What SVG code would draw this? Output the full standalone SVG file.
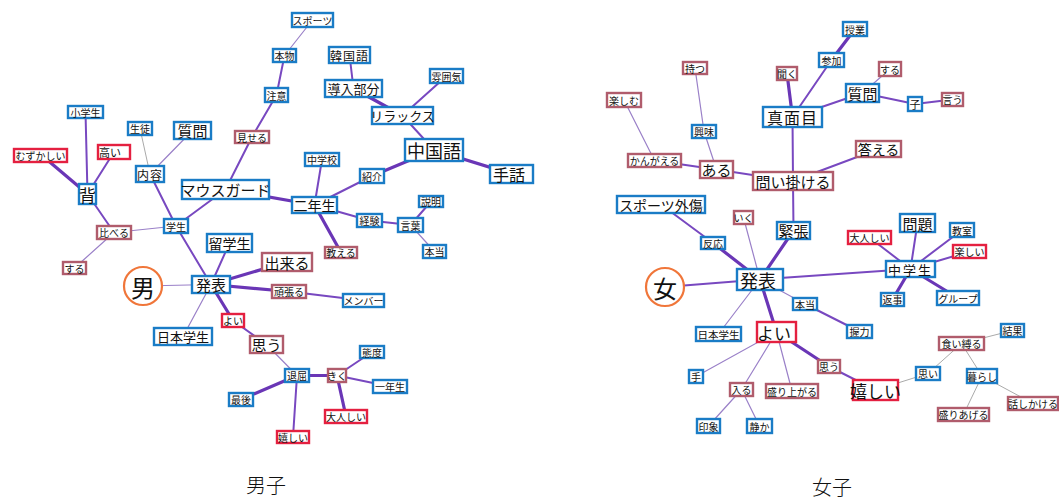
<svg xmlns="http://www.w3.org/2000/svg" width="1059" height="499" viewBox="0 0 1059 499">
<style>
  .bg{fill:#ffffff}
  rect{fill:#ffffff;stroke-width:2.4}
  .b rect{stroke:#1a7cc6}
  .m rect{stroke:#b05c6c}
  .r rect{stroke:#e42040}
  text{font-family:"Noto Sans CJK JP","Noto Sans",sans-serif;fill:#111;text-anchor:middle;dominant-baseline:central}
  .s text{font-size:10px}
  .k text{font-size:13px}
  .l text{font-size:15px}
  .x text{font-size:17px}
  .hub circle{fill:#ffffff;stroke:#f0763a;stroke-width:2.2}
  .hub text{font-size:24px}
  .cap{font-size:20px;font-weight:300}
  #edges line{stroke-linecap:round}
  .e3{stroke:#6a36b6;stroke-width:3.2}
  .e2{stroke:#7848c0;stroke-width:2}
  .e1{stroke:#9a80c8;stroke-width:1.2}
  .eg{stroke:#aaaaaa;stroke-width:1}
</style>
<rect class="bg" x="0" y="0" width="1059" height="499" style="stroke:none"/>

<g id="edges">
  <!-- left network -->
  <line class="e1" x1="143" y1="286" x2="211" y2="284.5"/>
  <line class="e2" x1="211" y1="284.5" x2="176" y2="226"/>
  <line class="e2" x1="211" y1="284.5" x2="229.5" y2="243"/>
  <line class="e3" x1="211" y1="284.5" x2="287" y2="262"/>
  <line class="e3" x1="211" y1="284.5" x2="289" y2="291.5"/>
  <line class="e1" x1="211" y1="284.5" x2="183" y2="336.5"/>
  <line class="e3" x1="211" y1="284.5" x2="233" y2="320.5"/>
  <line class="e2" x1="233" y1="320.5" x2="266.5" y2="344.5"/>
  <line class="e1" x1="266.5" y1="344.5" x2="297" y2="375.5"/>
  <line class="e3" x1="297" y1="375.5" x2="241" y2="399.5"/>
  <line class="e3" x1="297" y1="375.5" x2="337" y2="375.5"/>
  <line class="e2" x1="297" y1="375.5" x2="293" y2="437"/>
  <line class="e2" x1="337" y1="375.5" x2="372" y2="352"/>
  <line class="e2" x1="337" y1="375.5" x2="390" y2="386.5"/>
  <line class="e3" x1="337" y1="375.5" x2="346" y2="416.5"/>
  <line class="e2" x1="289" y1="291.5" x2="363.5" y2="300.5"/>
  <line class="e2" x1="176" y1="226" x2="150" y2="174"/>
  <line class="e2" x1="176" y1="226" x2="225.5" y2="189.5"/>
  <line class="e1" x1="176" y1="226" x2="114" y2="232.5"/>
  <line class="eg" x1="150" y1="174" x2="140" y2="128.5"/>
  <line class="e1" x1="150" y1="174" x2="192.5" y2="130.5"/>
  <line class="e2" x1="114" y1="232.5" x2="87.5" y2="194"/>
  <line class="e1" x1="114" y1="232.5" x2="74.5" y2="268"/>
  <line class="e2" x1="87.5" y1="194" x2="85.5" y2="112"/>
  <line class="e3" x1="87.5" y1="194" x2="45" y2="158"/>
  <line class="e2" x1="87.5" y1="194" x2="114" y2="152"/>
  <line class="e2" x1="225.5" y1="189.5" x2="252" y2="137"/>
  <line class="e3" x1="225.5" y1="189.5" x2="314.5" y2="205"/>
  <line class="e2" x1="252" y1="137" x2="276.5" y2="95"/>
  <line class="e2" x1="276.5" y1="95" x2="284.5" y2="55.5"/>
  <line class="e1" x1="284.5" y1="55.5" x2="312.5" y2="20"/>
  <line class="e2" x1="314.5" y1="205" x2="322" y2="159.5"/>
  <line class="e2" x1="314.5" y1="205" x2="372" y2="176"/>
  <line class="e2" x1="314.5" y1="205" x2="369.5" y2="220.5"/>
  <line class="e3" x1="314.5" y1="205" x2="341" y2="252.5"/>
  <line class="e3" x1="372" y1="176" x2="434" y2="150"/>
  <line class="e2" x1="434" y1="150" x2="402.5" y2="115.5"/>
  <line class="e3" x1="434" y1="150" x2="511.5" y2="174"/>
  <line class="e3" x1="402.5" y1="115.5" x2="353.5" y2="88.5"/>
  <line class="e2" x1="402.5" y1="115.5" x2="446.5" y2="76"/>
  <line class="e2" x1="353.5" y1="88.5" x2="349.5" y2="55"/>
  <line class="e2" x1="369.5" y1="220.5" x2="410.5" y2="225"/>
  <line class="e2" x1="410.5" y1="225" x2="431" y2="201.5"/>
  <line class="e1" x1="410.5" y1="225" x2="434.5" y2="251.5"/>

  <!-- right network -->
  <line class="e2" x1="665" y1="287" x2="760" y2="279.5"/>
  <line class="e3" x1="760" y1="279.5" x2="713" y2="243"/>
  <line class="e2" x1="713" y1="243" x2="661" y2="204.5"/>
  <line class="e1" x1="760" y1="279.5" x2="743.5" y2="217.5"/>
  <line class="e3" x1="760" y1="279.5" x2="793.5" y2="230.5"/>
  <line class="e2" x1="793.5" y1="230.5" x2="793" y2="181"/>
  <line class="e2" x1="793" y1="181" x2="792.5" y2="117"/>
  <line class="e2" x1="793" y1="181" x2="716.5" y2="169.5"/>
  <line class="e2" x1="793" y1="181" x2="878.5" y2="149"/>
  <line class="e2" x1="716.5" y1="169.5" x2="654.5" y2="160.5"/>
  <line class="e1" x1="716.5" y1="169.5" x2="704" y2="131.5"/>
  <line class="e1" x1="704" y1="131.5" x2="695" y2="68"/>
  <line class="e1" x1="654.5" y1="160.5" x2="624" y2="100"/>
  <line class="e3" x1="792.5" y1="117" x2="787" y2="73.5"/>
  <line class="e2" x1="792.5" y1="117" x2="831.5" y2="60"/>
  <line class="e3" x1="831.5" y1="60" x2="855" y2="29"/>
  <line class="e2" x1="792.5" y1="117" x2="862.5" y2="93"/>
  <line class="e1" x1="862.5" y1="93" x2="890" y2="69"/>
  <line class="e2" x1="862.5" y1="93" x2="915" y2="104"/>
  <line class="e2" x1="915" y1="104" x2="952.5" y2="99.5"/>
  <line class="e2" x1="760" y1="279.5" x2="910.5" y2="269"/>
  <line class="e2" x1="910.5" y1="269" x2="917.5" y2="223"/>
  <line class="e2" x1="910.5" y1="269" x2="962" y2="230"/>
  <line class="e2" x1="910.5" y1="269" x2="869.5" y2="237.5"/>
  <line class="e2" x1="910.5" y1="269" x2="969.5" y2="251.5"/>
  <line class="e3" x1="910.5" y1="269" x2="892.5" y2="299.5"/>
  <line class="e3" x1="910.5" y1="269" x2="958" y2="298"/>
  <line class="e1" x1="760" y1="279.5" x2="805" y2="304"/>
  <line class="e2" x1="805" y1="304" x2="859.5" y2="331.5"/>
  <line class="e1" x1="760" y1="279.5" x2="718.5" y2="334"/>
  <line class="e3" x1="760" y1="279.5" x2="776.5" y2="332"/>
  <line class="e1" x1="776.5" y1="332" x2="696" y2="376.5"/>
  <line class="e1" x1="776.5" y1="332" x2="741.5" y2="389.5"/>
  <line class="e1" x1="776.5" y1="332" x2="792" y2="391"/>
  <line class="e3" x1="776.5" y1="332" x2="829" y2="366.5"/>
  <line class="e2" x1="829" y1="366.5" x2="875.5" y2="390"/>
  <line class="e1" x1="741.5" y1="389.5" x2="708.5" y2="426"/>
  <line class="e1" x1="741.5" y1="389.5" x2="759.5" y2="426"/>
  <line class="eg" x1="875.5" y1="390" x2="928" y2="373.5"/>
  <line class="eg" x1="928" y1="373.5" x2="961.5" y2="343.5"/>
  <line class="eg" x1="961.5" y1="343.5" x2="1012.5" y2="330.5"/>
  <line class="eg" x1="961.5" y1="343.5" x2="982" y2="376"/>
  <line class="eg" x1="982" y1="376" x2="1033" y2="403.5"/>
  <line class="eg" x1="982" y1="376" x2="963.5" y2="414.5"/>
</g>

<!-- left network nodes -->
<g id="n-otoko" class="hub"><circle cx="143" cy="286" r="19"/><text x="143" y="286">男</text></g>
<g id="n-shogakusei" class="b s"><rect x="68" y="106" width="35" height="12"/><text x="85.5" y="112">小学生</text></g>
<g id="n-seito" class="b s"><rect x="128" y="122" width="24" height="13"/><text x="140" y="128.5">生徒</text></g>
<g id="n-shitsumon-l" class="b k"><rect x="174" y="122" width="37" height="17"/><text x="192.5" y="130.5" style="font-size:15px">質問</text></g>
<g id="n-muzukashii" class="r s"><rect x="14" y="149" width="53" height="13"/><text x="40.5" y="155.5">むずかしい</text></g>
<g id="n-takai" class="r s"><rect x="98" y="145" width="32" height="14"/><text x="110" y="152" style="font-size:11px">高い</text></g>
<g id="n-miseru" class="m s"><rect x="235" y="131" width="34" height="12"/><text x="252" y="137">見せる</text></g>
<g id="n-naiyo" class="b s"><rect x="136" y="166" width="28" height="16"/><text x="150" y="174" style="font-size:12px;letter-spacing:1px">内容</text></g>
<g id="n-se" class="b x"><rect x="79" y="184" width="17" height="20"/><text x="87.5" y="194">背</text></g>
<g id="n-mouthguard" class="b l"><rect x="182" y="180" width="87" height="19"/><text x="225.5" y="189.5">マウスガード</text></g>
<g id="n-kuraberu" class="m s"><rect x="97" y="226" width="34" height="13"/><text x="114" y="232.5">比べる</text></g>
<g id="n-gakusei" class="b s"><rect x="164" y="219" width="24" height="14"/><text x="176" y="226">学生</text></g>
<g id="n-ryugakusei" class="b k"><rect x="207" y="234" width="45" height="18"/><text x="229.5" y="243" style="font-size:14px">留学生</text></g>
<g id="n-sports-l" class="b s"><rect x="292" y="13" width="41" height="14"/><text x="312.5" y="20">スポーツ</text></g>
<g id="n-honmono" class="b s"><rect x="273" y="49" width="23" height="13"/><text x="284.5" y="55.5">本物</text></g>
<g id="n-kankokugo" class="b k"><rect x="329" y="47" width="41" height="16"/><text x="349.5" y="55" style="font-size:12px;letter-spacing:1px">韓国語</text></g>
<g id="n-funiki" class="b s"><rect x="430" y="69" width="33" height="14"/><text x="446.5" y="76">雰囲気</text></g>
<g id="n-chui" class="b s"><rect x="265" y="88" width="23" height="14"/><text x="276.5" y="95">注意</text></g>
<g id="n-donyububun" class="b k"><rect x="325" y="80" width="57" height="17"/><text x="353.5" y="88.5">導入部分</text></g>
<g id="n-relax" class="b k"><rect x="372" y="107" width="61" height="17"/><text x="402.5" y="115.5">リラックス</text></g>
<g id="n-chugokugo" class="b x"><rect x="405" y="139" width="58" height="22"/><text x="434" y="150" style="font-size:18px">中国語</text></g>
<g id="n-shuwa" class="b x"><rect x="490" y="165" width="43" height="18"/><text x="509" y="174" style="font-size:16px">手話</text></g>
<g id="n-chugakko" class="b s"><rect x="305" y="153" width="34" height="13"/><text x="322" y="159.5">中学校</text></g>
<g id="n-shokai" class="b s"><rect x="360" y="169" width="24" height="14"/><text x="372" y="176">紹介</text></g>
<g id="n-ninensei" class="b k"><rect x="292" y="197" width="45" height="16"/><text x="314.5" y="205" style="font-size:14px">二年生</text></g>
<g id="n-setsumei" class="b s"><rect x="419" y="196" width="24" height="11"/><text x="431" y="201.5">説明</text></g>
<g id="n-keiken" class="b s"><rect x="357" y="214" width="25" height="13"/><text x="369.5" y="220.5">経験</text></g>
<g id="n-kotoba" class="b s"><rect x="398" y="218" width="25" height="14"/><text x="410.5" y="225">言葉</text></g>
<g id="n-suru-l" class="m s"><rect x="63" y="262" width="23" height="12"/><text x="74.5" y="268">する</text></g>
<g id="n-happyo-l" class="b l"><rect x="192" y="276" width="38" height="17"/><text x="211" y="284.5">発表</text></g>
<g id="n-nihongakusei-l" class="b k"><rect x="154" y="328" width="58" height="17"/><text x="183" y="336.5">日本学生</text></g>
<g id="n-yoi-l" class="r s"><rect x="222" y="314" width="22" height="13"/><text x="233" y="320.5">よい</text></g>
<g id="n-omou-l" class="m l"><rect x="250" y="336" width="33" height="17"/><text x="266.5" y="344.5">思う</text></g>
<g id="n-saigo" class="b s"><rect x="229" y="393" width="24" height="13"/><text x="241" y="399.5">最後</text></g>
<g id="n-oshieru" class="m s"><rect x="325" y="247" width="32" height="11"/><text x="341" y="252.5">教える</text></g>
<g id="n-honto-l" class="b s"><rect x="423" y="245" width="23" height="13"/><text x="434.5" y="251.5">本当</text></g>
<g id="n-dekiru" class="m l"><rect x="262" y="253" width="50" height="18"/><text x="287" y="262">出来る</text></g>
<g id="n-ganbaru" class="m s"><rect x="272" y="285" width="34" height="13"/><text x="289" y="291.5">頑張る</text></g>
<g id="n-member" class="b s"><rect x="343" y="294" width="41" height="13"/><text x="363.5" y="300.5">メンバー</text></g>
<g id="n-taido" class="b s"><rect x="360" y="346" width="24" height="12"/><text x="372" y="352">態度</text></g>
<g id="n-taikutsu" class="b s"><rect x="285" y="369" width="24" height="13"/><text x="297" y="375.5">退屈</text></g>
<g id="n-kiku" class="m s"><rect x="328" y="369" width="18" height="13"/><text x="337" y="375.5">きく</text></g>
<g id="n-ichinensei" class="b s"><rect x="373" y="380" width="34" height="13"/><text x="390" y="386.5">一年生</text></g>
<g id="n-otonashii-l" class="r s"><rect x="325" y="410" width="42" height="13"/><text x="346" y="416.5">大人しい</text></g>
<g id="n-ureshii-l" class="r s"><rect x="277" y="431" width="32" height="12"/><text x="293" y="437">嬉しい</text></g>

<!-- right network nodes -->
<g id="n-onna" class="hub"><circle cx="665" cy="287" r="19"/><text x="665" y="287">女</text></g>
<g id="n-motsu" class="m s"><rect x="683" y="62" width="24" height="12"/><text x="695" y="68">持つ</text></g>
<g id="n-kiku-r" class="m s"><rect x="777" y="67" width="20" height="13"/><text x="787" y="73.5">聞く</text></g>
<g id="n-tanoshimu" class="m s"><rect x="607" y="93" width="34" height="14"/><text x="624" y="100">楽しむ</text></g>
<g id="n-majime" class="b x"><rect x="763" y="107" width="59" height="20"/><text x="792.5" y="117" style="font-size:16px;letter-spacing:1px">真面目</text></g>
<g id="n-kyomi" class="b s"><rect x="692" y="125" width="24" height="13"/><text x="704" y="131.5">興味</text></g>
<g id="n-kangaeru" class="m s"><rect x="628" y="154" width="53" height="13"/><text x="654.5" y="160.5">かんがえる</text></g>
<g id="n-aru" class="m l"><rect x="700" y="161" width="33" height="17"/><text x="716.5" y="169.5">ある</text></g>
<g id="n-toikakeru" class="m l"><rect x="753" y="172" width="80" height="18"/><text x="793" y="181">問い掛ける</text></g>
<g id="n-sportsgaisho" class="b l"><rect x="617" y="196" width="88" height="17"/><text x="661" y="204.5" style="font-size:14px">スポーツ外傷</text></g>
<g id="n-iku" class="m s"><rect x="734" y="211" width="19" height="13"/><text x="743.5" y="217.5">いく</text></g>
<g id="n-kincho" class="b l"><rect x="777" y="222" width="33" height="17"/><text x="793.5" y="230.5">緊張</text></g>
<g id="n-jugyo" class="b s"><rect x="843" y="22" width="24" height="14"/><text x="855" y="29">授業</text></g>
<g id="n-sanka" class="b s"><rect x="819" y="53" width="25" height="14"/><text x="831.5" y="60">参加</text></g>
<g id="n-suru-r" class="m s"><rect x="879" y="62" width="22" height="14"/><text x="890" y="69">する</text></g>
<g id="n-shitsumon-r" class="b l"><rect x="846" y="84" width="33" height="18"/><text x="862.5" y="93">質問</text></g>
<g id="n-ko" class="b s"><rect x="908" y="97" width="14" height="14"/><text x="915" y="104" style="font-size:11px">子</text></g>
<g id="n-iu" class="m s"><rect x="942" y="93" width="21" height="13"/><text x="952.5" y="99.5">言う</text></g>
<g id="n-kotaeru" class="m l"><rect x="856" y="141" width="45" height="16"/><text x="878.5" y="149" style="font-size:14px">答える</text></g>
<g id="n-mondai" class="b l"><rect x="900" y="214" width="35" height="18"/><text x="917.5" y="223">問題</text></g>
<g id="n-kyoshitsu" class="b s"><rect x="950" y="223" width="24" height="14"/><text x="962" y="230">教室</text></g>
<g id="n-otonashii-r" class="r s"><rect x="848" y="231" width="43" height="13"/><text x="869.5" y="237.5">大人しい</text></g>
<g id="n-hanno" class="b s"><rect x="701" y="237" width="24" height="12"/><text x="713" y="243">反応</text></g>
<g id="n-happyo-r" class="b x"><rect x="737" y="269" width="46" height="21"/><text x="758" y="279.5" style="font-size:18px">発表</text></g>
<g id="n-honto-r" class="b s"><rect x="793" y="298" width="24" height="12"/><text x="805" y="304">本当</text></g>
<g id="n-nihongakusei-r" class="b s"><rect x="696" y="327" width="45" height="14"/><text x="718.5" y="334" style="font-size:10.5px">日本学生</text></g>
<g id="n-yoi-r" class="r x"><rect x="757" y="322" width="39" height="20"/><text x="774" y="332">よい</text></g>
<g id="n-omou-r" class="m s"><rect x="818" y="360" width="22" height="13"/><text x="829" y="366.5">思う</text></g>
<g id="n-te" class="b s"><rect x="689" y="370" width="14" height="13"/><text x="696" y="376.5">手</text></g>
<g id="n-hairu" class="m s"><rect x="730" y="383" width="23" height="13"/><text x="741.5" y="389.5">入る</text></g>
<g id="n-moriagaru" class="m s"><rect x="766" y="384" width="52" height="14"/><text x="792" y="391">盛り上がる</text></g>
<g id="n-insho" class="b s"><rect x="697" y="419" width="23" height="14"/><text x="708.5" y="426">印象</text></g>
<g id="n-shizuka" class="b s"><rect x="747" y="419" width="25" height="14"/><text x="759.5" y="426">静か</text></g>
<g id="n-tanoshii" class="r s"><rect x="953" y="245" width="33" height="13"/><text x="969.5" y="251.5">楽しい</text></g>
<g id="n-chugakusei" class="b k"><rect x="886" y="261" width="49" height="16"/><text x="910.5" y="269" style="letter-spacing:2px">中学生</text></g>
<g id="n-henji" class="b s"><rect x="881" y="293" width="23" height="13"/><text x="892.5" y="299.5">返事</text></g>
<g id="n-group" class="b s"><rect x="937" y="291" width="42" height="14"/><text x="958" y="298">グループ</text></g>
<g id="n-akuryoku" class="b s"><rect x="847" y="325" width="25" height="13"/><text x="859.5" y="331.5">握力</text></g>
<g id="n-kekka" class="b s"><rect x="1001" y="324" width="23" height="13"/><text x="1012.5" y="330.5">結果</text></g>
<g id="n-kuishibaru" class="m s"><rect x="939" y="337" width="45" height="13"/><text x="961.5" y="343.5">食い縛る</text></g>
<g id="n-omoi" class="b s"><rect x="916" y="367" width="24" height="13"/><text x="928" y="373.5">思い</text></g>
<g id="n-kurashi" class="b s"><rect x="967" y="369" width="30" height="14"/><text x="982" y="376">暮らし</text></g>
<g id="n-ureshii-r" class="r x"><rect x="853" y="380" width="45" height="20"/><text x="875.5" y="390">嬉しい</text></g>
<g id="n-hanashikakeru" class="m s"><rect x="1008" y="397" width="50" height="13"/><text x="1033" y="403.5">話しかける</text></g>
<g id="n-moriageru" class="m s"><rect x="938" y="408" width="51" height="13"/><text x="963.5" y="414.5">盛りあげる</text></g>

<!-- captions -->
<g id="captions">
  <text class="cap" x="266" y="484">男子</text>
  <text class="cap" x="832" y="486">女子</text>
</g>
</svg>
